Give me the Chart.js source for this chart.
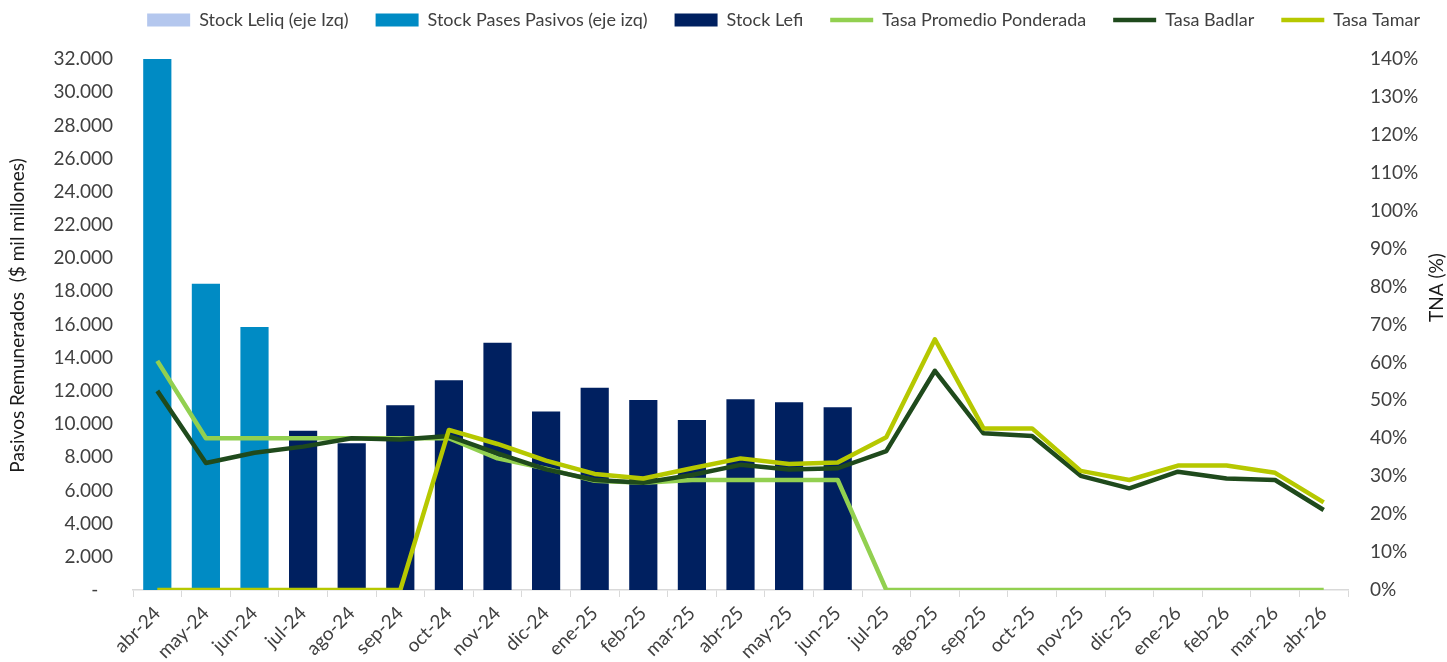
<!DOCTYPE html>
<html>
<head>
<meta charset="utf-8">
<script src="https://cdn.jsdelivr.net/npm/chart.js@4.4.1/dist/chart.umd.min.js"></script>
<style>
  html, body { margin: 0; padding: 0; background: #ffffff; }
  #wrap { position: relative; width: 1447px; height: 662px; }
</style>
</head>
<body>
<div id="wrap"><canvas id="c"></canvas></div>
<script>
// ---------- DATA ----------
const categories = ['abr-24','may-24','jun-24','jul-24','ago-24','sep-24','oct-24','nov-24','dic-24',
  'ene-25','feb-25','mar-25','abr-25','may-25','jun-25','jul-25','ago-25','sep-25','oct-25','nov-25',
  'dic-25','ene-26','feb-26','mar-26','abr-26'];

const stockLeliq = [null,null,null,null,null,null,null,null,null,null,null,null,null,null,null,
  null,null,null,null,null,null,null,null,null,null];
const stockPases = [32000,18450,15850,null,null,null,null,null,null,null,null,null,null,null,null,
  null,null,null,null,null,null,null,null,null,null];
const stockLefi = [null,null,null,9600,8840,11130,12640,14900,10750,12190,11450,10245,11490,11310,11010,
  null,null,null,null,null,null,null,null,null,null];

const tasaPromedio = [60.4,40,40,40,40,40,40,34.7,32,28.8,28.3,29,29,29,29,
  0,0,0,0,0,0,0,0,0,0];
const tasaBadlar = [52.5,33.5,36.2,37.8,40,39.7,40.6,36,31.8,29,28.3,30.3,33,31.8,32.1,
  36.6,57.8,41.3,40.6,30.1,26.8,31.2,29.4,29,21.1];
const tasaTamar = [0,0,0,0,0,0,42.2,38.5,34.1,30.6,29.4,32.1,34.7,33.2,33.6,
  40.3,66.1,42.6,42.6,31.4,29,32.8,32.8,30.9,23.1];

const seriesNames = ['Stock Leliq (eje Izq)','Stock Pases Pasivos (eje izq)','Stock Lefi',
  'Tasa Promedio Ponderada','Tasa Badlar','Tasa Tamar'];
const leftTitle = 'Pasivos Remunerados  ($ mil millones)';
const rightTitle = 'TNA (%)';

// ---------- STYLE ----------
const FONT = 'Lato';
const FS = 18;
const TFS = 19;
const TXT = '#404040';

function fmtThousands(v) {
  if (v === 0) return '-   ';
  return String(Math.round(v)).replace(/\B(?=(\d{3})+(?!\d))/g, '.');
}

const axisTitles = {
  id: 'axisTitles',
  afterDraw(chart) {
    const { ctx, chartArea } = chart;
    ctx.save();
    ctx.font = TFS + 'px ' + FONT;
    ctx.fillStyle = '#1a1a1a';
    ctx.textAlign = 'center';
    ctx.textBaseline = 'middle';
    const mid = (chartArea.top + chartArea.bottom) / 2;
    ctx.save();
    ctx.translate(18, mid - 9);
    ctx.rotate(-Math.PI / 2);
    ctx.fillText(leftTitle, 0, 0);
    ctx.restore();
    ctx.save();
    ctx.translate(chartArea.right + 89, mid - 37);
    ctx.rotate(-Math.PI / 2);
    ctx.fillText(rightTitle, 0, 0);
    ctx.restore();
    ctx.restore();
  }
};

const barBase = { type: 'bar', yAxisID: 'y', grouped: false, borderWidth: 0,
  barPercentage: 0.58, categoryPercentage: 1, order: 10, pointStyle: 'rect' };
const lineBase = { type: 'line', yAxisID: 'y1', borderWidth: 4.5, pointRadius: 0,
  pointHoverRadius: 0, tension: 0, fill: false, borderJoinStyle: 'round', pointStyle: 'line' };

const data = {
  labels: categories,
  datasets: [
    Object.assign({}, barBase, { label: seriesNames[0], data: stockLeliq, backgroundColor: '#b4c7ee' }),
    Object.assign({}, barBase, { label: seriesNames[1], data: stockPases, backgroundColor: '#008bc4' }),
    Object.assign({}, barBase, { label: seriesNames[2], data: stockLefi, backgroundColor: '#002060' }),
    Object.assign({}, lineBase, { label: seriesNames[3], data: tasaPromedio, borderColor: '#92d050', backgroundColor: '#92d050', order: 3 }),
    Object.assign({}, lineBase, { label: seriesNames[4], data: tasaBadlar, borderColor: '#1f4a1c', backgroundColor: '#1f4a1c', order: 2 }),
    Object.assign({}, lineBase, { label: seriesNames[5], data: tasaTamar, borderColor: '#b6c800', backgroundColor: '#b6c800', order: 1 })
  ]
};

new Chart(document.getElementById('c'), {
  data,
  plugins: [axisTitles],
  options: {
    responsive: true,
    maintainAspectRatio: false,
    devicePixelRatio: 1,
    animation: false,
    layout: { padding: { top: -16, right: 0, bottom: 0, left: 0 } },
    plugins: {
      tooltip: { enabled: false },
      legend: {
        display: true,
        position: 'top',
        align: 'end',
        labels: {
          usePointStyle: true,
          pointStyleWidth: 43,
          boxWidth: 43,
          boxHeight: 13,
          padding: 27,
          color: TXT,
          font: { family: FONT, size: FS },
          sort: (a, b) => a.datasetIndex - b.datasetIndex
        }
      },
      subtitle: {
        display: true,
        text: '',
        weight: 0,
        font: { size: 1, lineHeight: 1 },
        padding: { top: 0, bottom: 19 }
      }
    },
    scales: {
      x: {
        offset: true,
        grid: { display: true, drawOnChartArea: false, drawTicks: true, tickLength: 7, color: '#d9d9d9', offset: true },
        border: { display: true, color: '#d9d9d9', width: 1.5 },
        ticks: { color: TXT, font: { family: FONT, size: TFS }, maxRotation: 45, minRotation: 45, padding: 5, autoSkip: false },
        afterFit(s) { s.height = 72; }
      },
      y: {
        position: 'left',
        min: 0, max: 32000,
        grid: { display: false, drawTicks: false },
        border: { display: false },
        ticks: { stepSize: 2000, color: TXT, font: { family: FONT, size: TFS }, padding: 20, callback: (v) => fmtThousands(v) },
        afterFit(s) { s.width = 133; }
      },
      y1: {
        position: 'right',
        min: 0, max: 140,
        grid: { display: false, drawTicks: false },
        border: { display: false },
        ticks: { stepSize: 10, color: TXT, font: { family: FONT, size: TFS }, padding: 22, callback: (v) => v + '%' },
        afterFit(s) { s.width = 99; }
      }
    }
  }
});
</script>
</body>
</html>
